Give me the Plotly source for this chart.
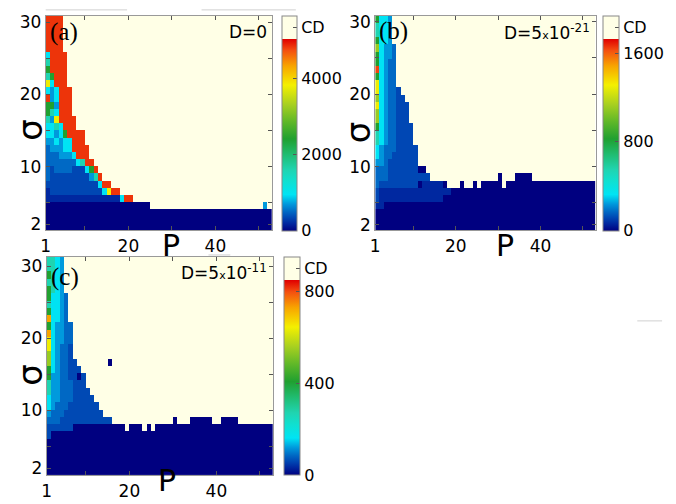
import numpy as np
import plotly.graph_objects as go

W, H = 676, 504

# ---------------- data grid ----------------
P_EDGES = list(range(1, 54))          # 52 P-columns (P = 1 ... 52)
N_ROWS = 30                           # sigma rows

# Codes: '.' = beyond range (cream "CD" band), others = CD level
# Rows are listed from the top (sigma = 30) to the bottom (sigma = 2)
ROWS_A = [
    "RRRR", "RRRR", "RRRR", "RRRR", "RRRR",
    "5RRRR", "6RRRR", "7RRRR", "67RRR", "95RRR",
    "545RRR", "R45RRR", "774RRR", "765RRR",
    "649RRRR", "5565RRR",
    "55457RRRR", "445455RRR",
    "344455RRRR", "3334445RRR",
    "333333356RR",
    "32333322257R",
    "322222222246R",
    "2222222222225RR",
    "122222222222259RR",
    "111111111111111115RR",
    "0" * 24 + "." * 26 + "4.",
    "0" * 52, "0" * 52, "0" * 52,
]
ROWS_B = [
    "7554", "6554", "6554", "7554",
    "85443", "75443", "75433", "R5433", "75433", "95433",
    "954332",
    "8543322",
    "95433222", "85433222", "85433222",
    "754332222", "654332222", "654332222",
    "5433322222", "5433222222", "4432222222",
    "333222222200",
    "3332222222222" + "." * 16 + "0" + "..." + "0000" + "." * 15,
    "32222222220111110" + "..." + "0" + ".." + "0" + "." + "00000" + "." + "0" * 21,
    "211111111111111111" + "0" * 34,
    "2111111111111111" + "0" * 36,
    "11" + "0" * 50,
    "0" * 52, "0" * 52, "0" * 52,
]
ROWS_C = [
    "6654", "6654", "7654", "6654", "7654",
    "75543", "65543", "75543", "o5543",
    "754433", "o54433", "954433", "954332", "854332",
    "8543322" + "......." + "0",
    "75433222",
    "744332202",
    "644333222",
    "6443332222",
    "54433322222",
    "543332222222",
    "4333222222222",
    "333222222222222" + "." * 14 + "0" + "..." + "00000" + ".." + "0000" + "." * 8,
    "222222" + "0" * 12 + "." + "000" + "." + "0" + "." + "0" * 27,
    "2" + "0" * 51,
    "0" * 52, "0" * 52, "0" * 52, "0" * 52, "0" * 52,
]

# CD value of each code, per panel
CD_A = {'0': 0, '1': 200, '2': 350, '3': 510, '4': 710, '5': 960, '6': 1620,
        '7': 2430, '8': 3240, '9': 3800, 'o': 4350, 'R': 4860}
CD_B = {'0': 0, '1': 70, '2': 120, '3': 175, '4': 240, '5': 330, '6': 550,
        '7': 830, '8': 1110, '9': 1300, 'o': 1490, 'R': 1640}
CD_C = {'0': 0, '1': 34, '2': 60, '3': 85, '4': 120, '5': 160, '6': 270,
        '7': 410, '8': 545, '9': 640, 'o': 730, 'R': 800}

CB_MAX = {'a': 5662, 'b': 1938, 'c': 951}
CB_TICKS = {'a': [0, 2000, 4000], 'b': [0, 800, 1600], 'c': [0, 400, 800]}
CB_MINOR = {'a': [1000, 3000], 'b': [400, 1200], 'c': [200, 600]}
D_TEXT = {'a': "D=0",
          'b': "D=5<span style='font-size:11px'>x</span>10<sup>-21</sup>",
          'c': "D=5<span style='font-size:11px'>x</span>10<sup>-11</sup>"}

X_TICKS = [1, 20, 40]
X_MINOR = [10, 30, 50]
Y_TICKS = [2, 10, 20, 30]
Y_MINOR = [5, 15, 25]

# ---------------- style ----------------
JET = [(0.00, '#000080'), (0.04, '#0028A0'), (0.07, '#0048B4'), (0.10, '#0068C4'),
       (0.14, '#0098DC'), (0.19, '#00E4F4'), (0.26, '#10E0D0'), (0.32, '#20D4B0'),
       (0.40, '#20BC70'), (0.48, '#20A030'), (0.57, '#60B828'), (0.66, '#A8D020'),
       (0.76, '#F4F000'), (0.86, '#F8A400'), (0.94, '#F45010'), (1.00, '#E00000')]
CREAM = '#FFFFE6'
JET_FRAC = 0.893
COLORSCALE = [[t * JET_FRAC, c] for t, c in JET] + [[JET_FRAC + 1e-4, CREAM], [1.0, CREAM]]

FONT = "DejaVu Sans"

# pixel layout of each panel: plot box (x0, x1, ytop, ybot), y-range, colorbar x0/width
LAYOUT = {
    'a': dict(box=(41, 269, 12, 230), yr=(1.18, 30.86), cbx=279, cbw=15, rows=ROWS_A, cd=CD_A,
              lab=(43, 28), dpos=(266, 28), sig=(25, 128), p=(167, 245, 'middle')),
    'b': dict(box=(373, 595, 12, 230), yr=(1.2, 30.8), cbx=602, cbw=16, rows=ROWS_B, cd=CD_B,
              lab=(375, 27), dpos=(591, 28), sig=(356, 130), p=(504, 245, 'middle')),
    'c': dict(box=(42, 270, 257, 479), yr=(1.0, 31.3), cbx=281, cbw=16, rows=ROWS_C, cd=CD_C,
              lab=(44, 277), dpos=(266, 272), sig=(25, 377), p=(163, 504, 'bottom')),
}


def px(x):
    return x / W


def py(y):
    return (H - y) / H


def build_z(rows, levels, zmax):
    ncol = len(P_EDGES) - 1
    z = []
    for s in reversed(rows):
        s = s.ljust(ncol, '.')
        z.append([zmax if ch == '.' else levels[ch] for ch in s])
    return z


fig = go.Figure()
annotations = []
shapes = []
for i, key in enumerate(['a', 'b', 'c']):
    L = LAYOUT[key]
    x0, x1, yt, yb = L['box']
    zmax = CB_MAX[key]
    sig_edges = np.linspace(L['yr'][0], L['yr'][1], N_ROWS + 1)
    z = build_z(L['rows'], L['cd'], zmax)
    ax = '' if i == 0 else str(i + 1)
    cd_pos = (JET_FRAC + 1) / 2 * zmax
    fig.add_trace(go.Heatmap(
        x=P_EDGES, y=sig_edges, z=z,
        zmin=0, zmax=zmax, colorscale=COLORSCALE, zsmooth=False,
        hoverinfo='skip', xaxis='x' + ax, yaxis='y' + ax,
        colorbar=dict(
            x=px(L['cbx']), xanchor='left', xref='paper', xpad=0,
            y=py((yt + yb) / 2), yanchor='middle', ypad=0,
            len=(yb - yt) / H, lenmode='fraction',
            thickness=L['cbw'], thicknessmode='pixels',
            outlinewidth=1, outlinecolor='#888888',
            ticks='inside', ticklen=4, tickcolor='#555555', tickwidth=1,
            tickvals=CB_TICKS[key] + [cd_pos],
            ticktext=[str(v) for v in CB_TICKS[key]] + ["CD"],
            tickfont=dict(family=FONT, size=16, color='black'),
        ),
    ))
    # unlabeled colorbar tick marks (inside the bar, right edge)
    for v in CB_MINOR[key]:
        ypix = yb - v / zmax * (yb - yt)
        shapes.append(dict(type='line', xref='paper', yref='paper',
                           x0=px(L['cbx'] + L['cbw'] - 4), x1=px(L['cbx'] + L['cbw']),
                           y0=py(ypix), y1=py(ypix), line=dict(color='#555555', width=1)))
    axis_common = dict(showgrid=False, zeroline=False, showline=True, linecolor='#999999',
                       linewidth=1, mirror='ticks', ticks='inside', ticklen=4,
                       tickcolor='#555555', tickfont=dict(family=FONT, size=17, color='black'))
    fig.update_layout(**{
        'xaxis' + ax: dict(domain=[px(x0), px(x1)], range=[1, 53], anchor='y' + ax,
                           tickvals=X_TICKS, ticktext=[str(v) for v in X_TICKS],
                           minor=dict(tickvals=X_MINOR, ticks='inside', ticklen=4,
                                      tickcolor='#555555'),
                           **axis_common),
        'yaxis' + ax: dict(domain=[py(yb), py(yt)], range=list(L['yr']), anchor='x' + ax,
                           tickvals=Y_TICKS, ticktext=[str(v) for v in Y_TICKS],
                           minor=dict(tickvals=Y_MINOR, ticks='inside', ticklen=4,
                                      tickcolor='#555555'),
                           **axis_common),
    })
    annotations += [
        dict(text="(" + key + ")", x=px(L['lab'][0]), y=py(L['lab'][1]), xanchor='left',
             yanchor='middle', font=dict(family="Liberation Serif", size=25, color='black')),
        dict(text=D_TEXT[key], x=px(L['dpos'][0]), y=py(L['dpos'][1]), xanchor='right',
             yanchor='middle', font=dict(family=FONT, size=17, color='black')),
        dict(text="σ", x=px(L['sig'][0]), y=py(L['sig'][1]), xanchor='center', yanchor='middle',
             textangle=-90, font=dict(family=FONT, size=34, color='black')),
        dict(text="P", x=px(L['p'][0]), y=py(L['p'][1]), xanchor='center', yanchor=L['p'][2],
             font=dict(family=FONT, size=30, color='black')),
    ]

# faint stray lines present in the source figure
for (ax0, ay, ax1) in [(41, 6, 123), (198, 6, 293), (205, 255, 227), (637, 322, 662)]:
    shapes.append(dict(type='line', xref='paper', yref='paper', x0=px(ax0), x1=px(ax1),
                       y0=py(ay), y1=py(ay), line=dict(color='#d0d0d0', width=1)))

for a in annotations:
    a.update(xref='paper', yref='paper', showarrow=False)

fig.update_layout(
    width=W, height=H, margin=dict(l=0, r=0, t=0, b=0),
    paper_bgcolor='white', plot_bgcolor='white',
    annotations=annotations, shapes=shapes, showlegend=False,
    font=dict(family=FONT, size=16, color='black'),
)

fig.write_html("out.html")
